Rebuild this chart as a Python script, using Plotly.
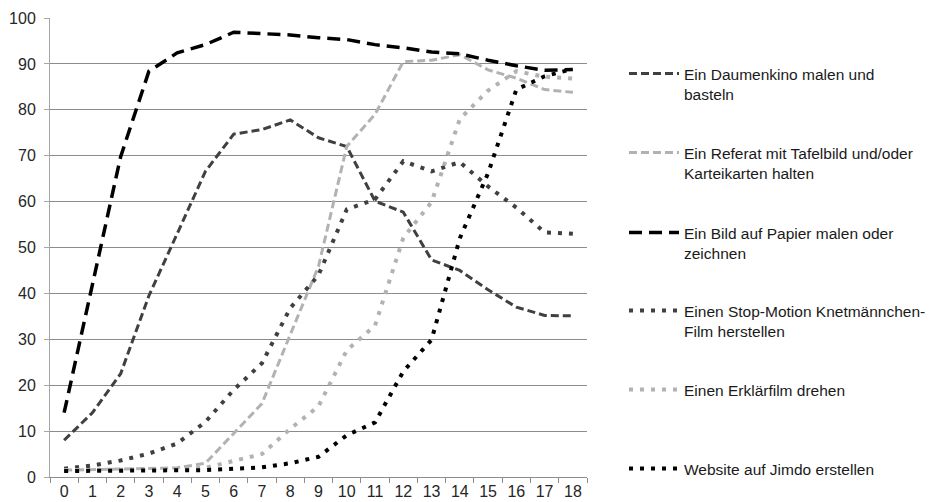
import plotly.graph_objects as go

categories = [str(i) for i in range(19)]

daumenkino = [8.0, 14.0, 22.5, 39.5, 53.0, 66.6, 74.7, 75.7, 77.8, 73.9, 72.0, 60.1, 57.7, 47.3, 45.0, 40.8, 37.0, 35.2, 35.1]
referat = [1.5, 1.6, 1.7, 1.8, 2.0, 3.0, 9.6, 16.0, 31.0, 45.9, 72.0, 79.0, 90.5, 90.8, 92.0, 88.7, 86.9, 84.4, 83.8]
bild = [14.0, 41.5, 69.8, 88.4, 92.4, 94.2, 96.9, 96.6, 96.3, 95.7, 95.3, 94.2, 93.5, 92.6, 92.2, 90.8, 89.6, 88.6, 88.8]
stopmotion = [1.8, 2.5, 3.6, 5.1, 7.3, 12.0, 19.0, 24.8, 36.8, 44.0, 58.3, 60.5, 68.8, 66.6, 68.6, 63.3, 58.7, 53.3, 53.0]
erklaerfilm = [1.5, 1.5, 1.6, 1.6, 1.7, 2.0, 3.5, 5.0, 10.5, 15.4, 27.6, 33.0, 52.1, 59.9, 78.0, 84.2, 88.4, 87.2, 86.8]
jimdo = [1.3, 1.3, 1.4, 1.4, 1.5, 1.5, 1.8, 2.1, 3.0, 4.4, 9.1, 11.9, 23.0, 29.9, 52.0, 66.2, 84.4, 87.3, 88.9]

names = [
    "Ein Daumenkino malen und<br>basteln",
    "Ein Referat mit Tafelbild und/oder<br>Karteikarten halten",
    "Ein Bild auf Papier malen oder<br>zeichnen",
    "Einen Stop-Motion Knetmännchen-<br>Film herstellen",
    "Einen Erklärfilm drehen",
    "Website auf Jimdo erstellen",
]
series = [daumenkino, referat, bild, stopmotion, erklaerfilm, jimdo]
colors = ["#404040", "#b2b2b2", "#000000", "#404040", "#b2b2b2", "#000000"]
widths = [3, 3, 3.5, 4, 4, 4]
dashes = ["8px,4px", "8px,4px", "13px,7px", "4px,7px", "4px,7px", "4px,7px"]
legend_ids = ["legend", "legend2", "legend3", "legend4", "legend5", "legend6"]
legend_first_line_px = [74, 153, 233, 311, 390, 469]

FONT = "Liberation Sans, Arial, sans-serif"
# the page body adds an 8px offset; figure is sized/positioned to compensate
OFF = 8
W, H = 949 - OFF, 502 - OFF
ML, MT = 50 - OFF, 18 - OFF
PLOT_RIGHT, PLOT_BOTTOM = 587 - OFF, 477 - OFF
MR, MB = W - PLOT_RIGHT, H - PLOT_BOTTOM

fig = go.Figure()
for name, vals, col, w, d, lg in zip(names, series, colors, widths, dashes, legend_ids):
    fig.add_trace(go.Scatter(
        x=categories, y=vals, mode="lines", name=name,
        line=dict(color=col, width=w, dash=d),
        legend=lg,
    ))

plot_w = W - ML - MR
plot_h = H - MT - MB
legend_layout = {}
for lg, py in zip(legend_ids, legend_first_line_px):
    top_fig = py - OFF - 17
    legend_layout[lg] = dict(
        x=(616 - ML) / plot_w, xanchor="left",
        y=(PLOT_BOTTOM - top_fig) / plot_h, yanchor="top",
        valign="top", itemwidth=50,
        font=dict(family=FONT, size=15.5, color="#1a1a1a"),
        bgcolor="rgba(0,0,0,0)", borderwidth=0,
        tracegroupgap=0,
    )

fig.update_layout(
    width=W, height=H,
    margin=dict(l=ML, r=MR, t=MT, b=MB, pad=0, autoexpand=False),
    paper_bgcolor="white", plot_bgcolor="white",
    showlegend=True,
    font=dict(family=FONT, size=16, color="#262626"),
    **legend_layout,
)
fig.update_xaxes(
    type="category", range=[-0.5, 18.5],
    tickson="boundaries", ticks="outside", ticklen=5, tickcolor="#8c8c8c",
    showline=True, linecolor="#8c8c8c", linewidth=1,
    showgrid=False, zeroline=False,
    tickfont=dict(family=FONT, size=16, color="#262626"),
)
fig.update_yaxes(
    range=[0, 100], dtick=10, tick0=0,
    ticks="outside", ticklen=5, tickcolor="#a6a6a6",
    showline=True, linecolor="#a6a6a6", linewidth=1,
    showgrid=True, gridcolor="#8c8c8c", gridwidth=1,
    zeroline=False,
    tickfont=dict(family=FONT, size=16, color="#262626"),
    ticklabelstandoff=5,
)

fig.write_html("out.html")
